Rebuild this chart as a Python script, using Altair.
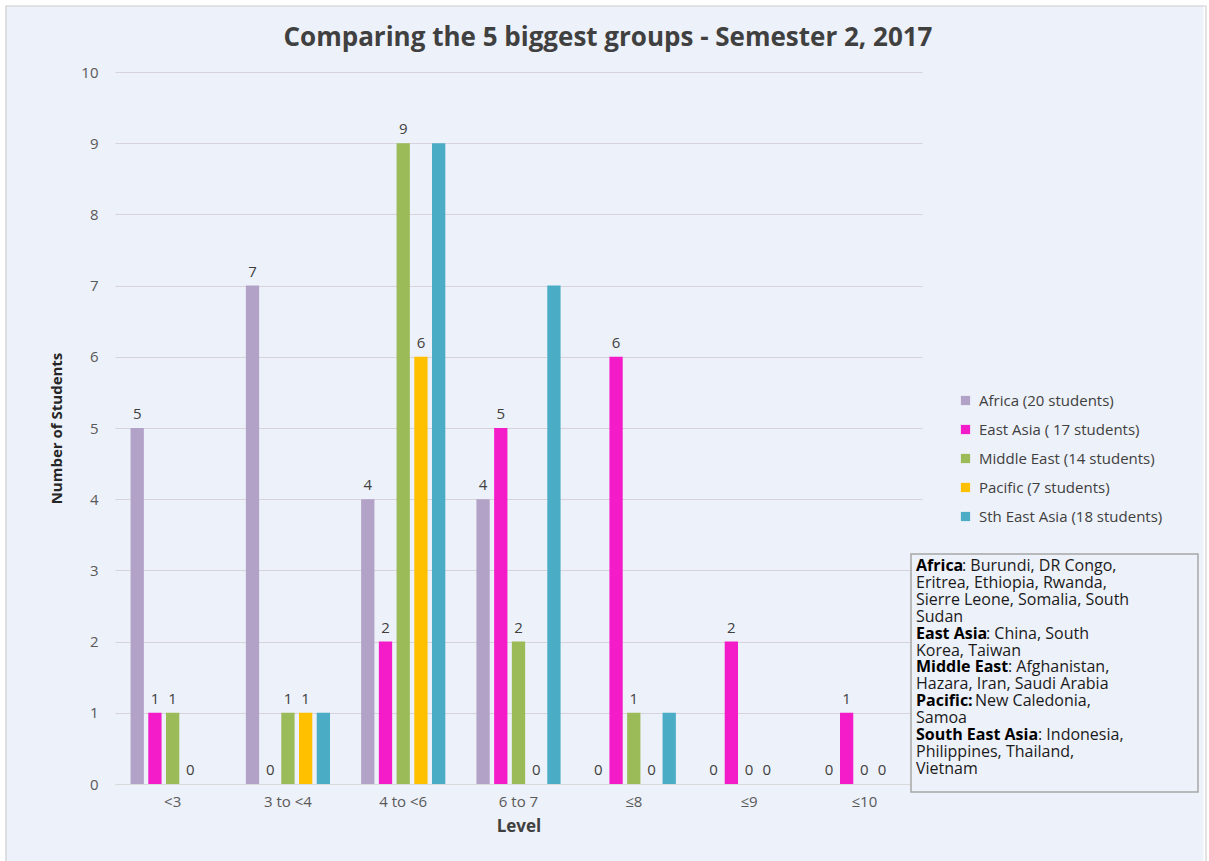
import altair as alt
import pandas as pd

levels = ["<3", "3 to <4", "4 to <6", "6 to 7", "≤8", "≤9", "≤10"]
groups = ["Africa (20 students)", "East Asia ( 17 students)", "Middle East (14 students)",
          "Pacific (7 students)", "Sth East Asia (18 students)"]
colors = ["#B3A2C7", "#F41CC8", "#9BBB59", "#FFC000", "#4BACC6"]

africa = [5, 7, 4, 4, 0, 0, 0]
east_asia = [1, 0, 2, 5, 6, 2, 1]
middle_east = [1, 1, 9, 2, 1, 0, 0]
pacific = [0, 1, 6, 0, 0, 0, 0]
sth_east_asia = [0, 1, 9, 7, 1, 0, 0]

title_text = "Comparing the 5 biggest groups - Semester 2, 2017"

series = [africa, east_asia, middle_east, pacific, sth_east_asia]
rows = []
for g, vals in zip(groups, series):
    for lv, v in zip(levels, vals):
        rows.append({"level": lv, "group": g, "count": v})
df = pd.DataFrame(rows)

box_bold = ["Africa", "", "", "", "East Asia", "", "Middle East", "", "Pacific:", "", "South East Asia", "", ""]
box_rest = [": Burundi, DR Congo,", "Eritrea, Ethiopia, Rwanda,", "Sierre Leone, Somalia, South", "Sudan",
            ": China, South", "Korea, Taiwan", ": Afghanistan,", "Hazara, Iran, Saudi Arabia",
            "New Caledonia,", "Samoa", ": Indonesia,", "Philippines, Thailand,", "Vietnam"]

# layout (pixels relative to plot origin)
W, H = 807, 712
FS_BOX = 16
TEXT_X = 801
LINE0 = 494
LINE_H = 16.9
bold_w = {"Africa": 46, "East Asia": 70, "Middle East": 92, "Pacific:": 59, "South East Asia": 122, "": 0}
box_df = pd.DataFrame({
    "bold": box_bold,
    "rest": box_rest,
    "ypix": [LINE0 + i * LINE_H for i in range(len(box_bold))],
    "xbold": [TEXT_X] * len(box_bold),
    "xrest": [TEXT_X + bold_w[b] for b in box_bold],
})

FONT = "Open Sans"
BG = "#EDF1F9"

base = alt.Chart(df)

xenc = alt.X("level:N", sort=levels,
             scale=alt.Scale(paddingInner=0.27, paddingOuter=0.135),
             axis=alt.Axis(title="Level", labelAngle=0, ticks=False, domainColor="#D9D9D9",
                           labelFont=FONT, labelFontSize=15, labelColor="#595959", labelPadding=10,
                           titleFont=FONT, titleFontSize=17, titleFontWeight="bold",
                           titleColor="#404040", titlePadding=9))
xoff = alt.XOffset("group:N", sort=groups, scale=alt.Scale(paddingInner=0.25))
yenc = alt.Y("count:Q", scale=alt.Scale(domain=[0, 10]),
             axis=alt.Axis(title="Number of Students", values=list(range(11)), ticks=False,
                           domain=False, gridColor="#D8D3DB", gridWidth=1.2,
                           labelFont=FONT, labelFontSize=15, labelColor="#595959", labelPadding=17,
                           titleFont=FONT, titleFontSize=15, titleFontWeight="bold",
                           titleColor="#262626", titlePadding=16))

bars = base.mark_bar().encode(
    x=xenc, xOffset=xoff, y=yenc,
    color=alt.Color("group:N", sort=groups, scale=alt.Scale(domain=groups, range=colors),
                    legend=alt.Legend(title=None, orient="none", legendX=843, legendY=321,
                                      symbolType="square", symbolSize=85, symbolStrokeWidth=0,
                                      labelFont=FONT, labelFontSize=15, labelColor="#404040",
                                      rowPadding=13, labelOffset=6, labelLimit=300)),
)

labels = base.transform_filter(
    alt.datum.group != groups[4]
).mark_text(baseline="bottom", dy=-6, font=FONT, fontSize=15, color="#404040").encode(
    x=xenc, xOffset=xoff, y=yenc, text="count:Q"
)

one = alt.Data(values=[{"k": 1}])
title = alt.Chart(alt.Data(values=[{"t": title_text}])).mark_text(
    font=FONT, fontSize=26, fontWeight="bold", color="#404040", align="center", baseline="middle"
).encode(x=alt.value(493), y=alt.value(-34), text="t:N")

box = alt.Chart(one).mark_rect(fill=BG, stroke="#A6A6A6", strokeWidth=1.5).encode(
    x=alt.value(796), x2=alt.value(1083), y=alt.value(482), y2=alt.value(720)
)
box_bold_t = alt.Chart(box_df).mark_text(align="left", baseline="middle", font=FONT, fontSize=FS_BOX,
                                         fontWeight="bold", color="#000000").encode(
    x=alt.X("xbold:Q", scale=None), y=alt.Y("ypix:Q", scale=None), text="bold:N"
)
box_rest_t = alt.Chart(box_df).mark_text(align="left", baseline="middle", font=FONT, fontSize=FS_BOX,
                                         color="#1a1a1a").encode(
    x=alt.X("xrest:Q", scale=None), y=alt.Y("ypix:Q", scale=None), text="rest:N"
)

frame_white = alt.Chart(one).mark_rect(fillOpacity=0, stroke="white", strokeWidth=11).encode(
    x=alt.value(-115), x2=alt.value(1094), y=alt.value(-72), y2=alt.value(800)
)
frame_gray = alt.Chart(one).mark_rect(fillOpacity=0, stroke="#D0D0D0", strokeWidth=1.2).encode(
    x=alt.value(-109), x2=alt.value(1091), y=alt.value(-66), y2=alt.value(820)
)

chart = alt.layer(bars, labels, title, box, box_bold_t, box_rest_t, frame_white, frame_gray).properties(
    width=W, height=H,
    autosize=alt.AutoSizeParams(type="none"),
    padding={"left": 115, "top": 72, "right": 287, "bottom": 77},
).configure(background=BG).configure_view(stroke=None)

chart.save("out.html", embed_options={"renderer": "svg", "actions": False})
